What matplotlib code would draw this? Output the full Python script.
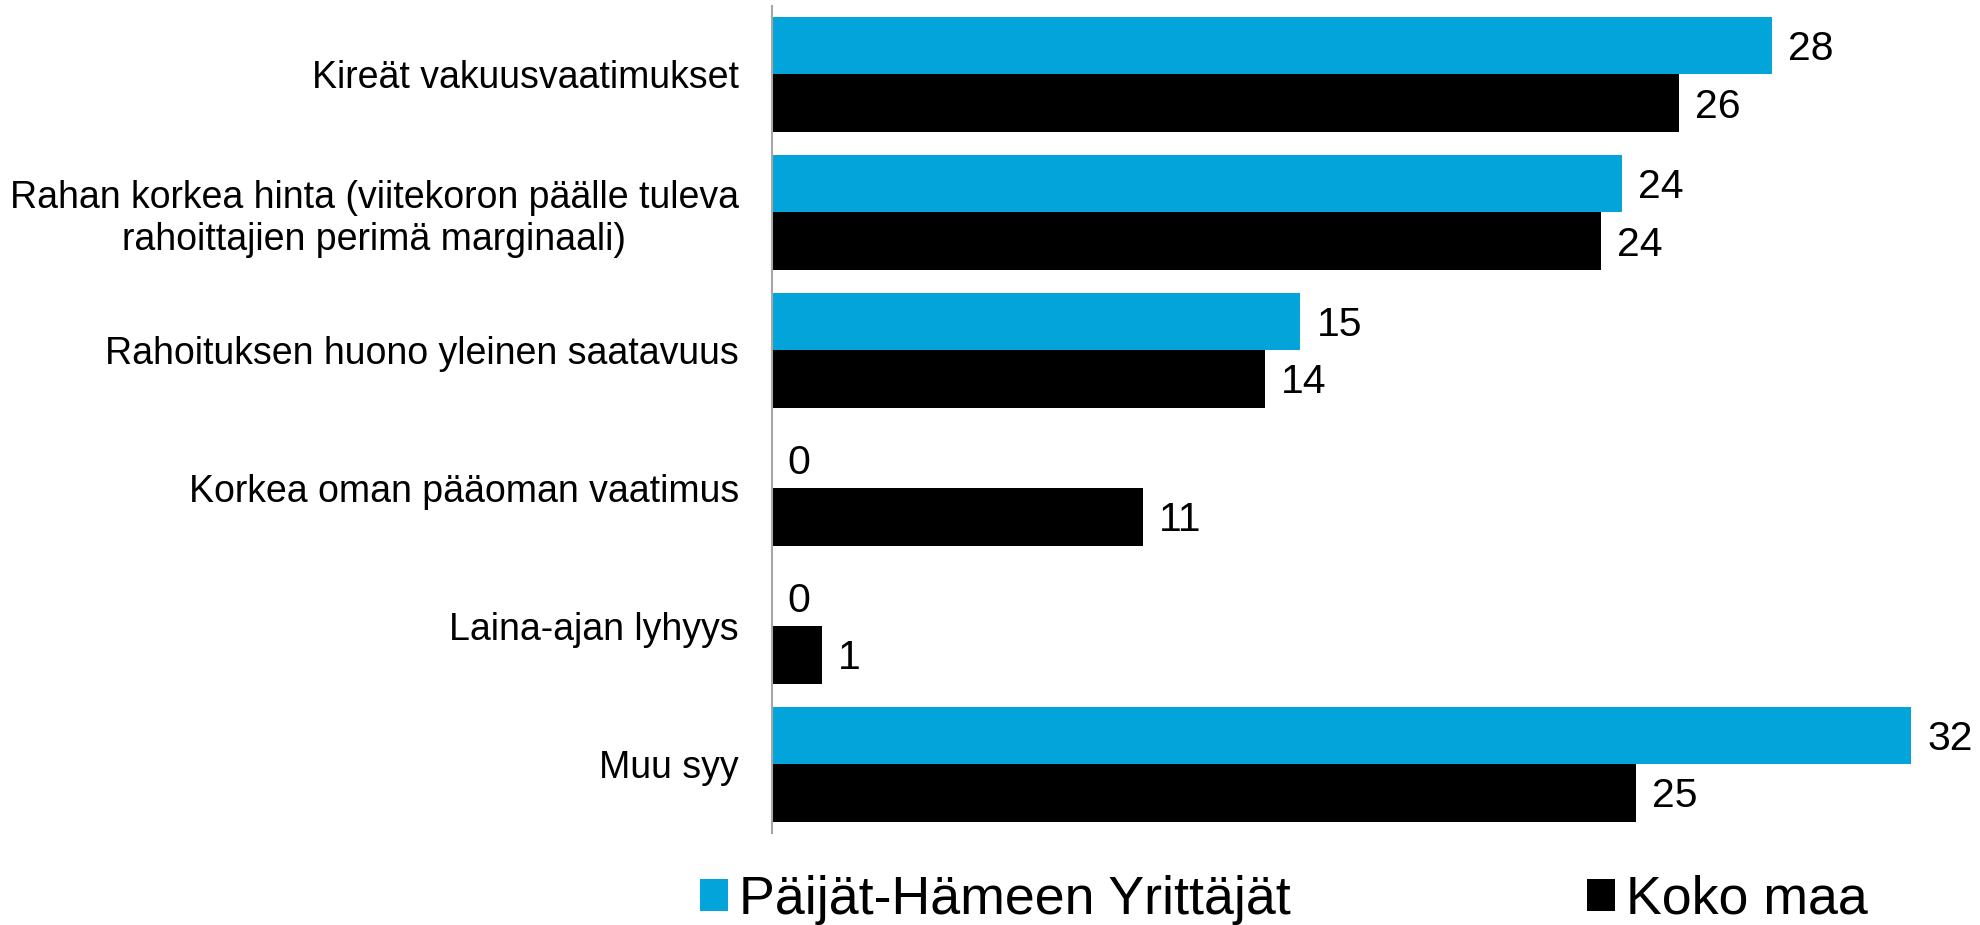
import matplotlib
matplotlib.use("Agg")
import matplotlib.pyplot as plt
from matplotlib.patches import Patch

categories = [
    "Kireät vakuusvaatimukset",
    "Rahan korkea hinta (viitekoron päälle tuleva\nrahoittajien perimä marginaali)",
    "Rahoituksen huono yleinen saatavuus",
    "Korkea oman pääoman vaatimus",
    "Laina-ajan lyhyys",
    "Muu syy",
]
series_names = ["Päijät-Hämeen Yrittäjät", "Koko maa"]
paijat_values = [28.0, 23.8, 14.8, 0.0, 0.0, 31.9]
koko_values = [25.4, 23.2, 13.8, 10.4, 1.4, 24.2]
paijat_labels = ["28", "24", "15", "0", "0", "32"]
koko_labels = ["26", "24", "14", "11", "1", "25"]

BLUE = "#02A4D9"
BLACK = "#000000"
plt.rcParams["font.family"] = ["Liberation Sans", "DejaVu Sans"]

W, H = 1980, 925
fig = plt.figure(figsize=(W / 100, H / 100), dpi=100)
left_px, top_px, bot_px = 771.6, 5.5, 833.0
xmax = 32.0
unit_px = 35.73
ax = fig.add_axes([left_px / W, 1 - bot_px / H, xmax * unit_px / W, (bot_px - top_px) / H])

n = len(categories)
ypos = list(range(n))
bh = 57.5 / 138.0
ax.barh([y - bh / 2 for y in ypos], paijat_values, height=bh, color=BLUE, label=series_names[0])
ax.barh([y + bh / 2 for y in ypos], koko_values, height=bh, color=BLACK, label=series_names[1])

vfs = 29.5
for y, v, lab in zip(ypos, paijat_values, paijat_labels):
    ax.annotate(lab, (v, y - bh / 2), xytext=(11.5, -2.5), textcoords="offset points",
                ha="left", va="center", fontsize=vfs, color="black", annotation_clip=False)
for y, v, lab in zip(ypos, koko_values, koko_labels):
    ax.annotate(lab, (v, y + bh / 2), xytext=(11.5, -2.5), textcoords="offset points",
                ha="left", va="center", fontsize=vfs, color="black", annotation_clip=False)

ax.set_xlim(0, xmax)
ax.set_ylim(n - 0.5, -0.5)
ax.set_yticks(ypos)
ax.set_yticklabels(categories, fontsize=27, ha="right", multialignment="center")
ax.tick_params(axis="y", length=0, pad=23.5)
ax.set_xticks([])
for s in ["top", "right", "bottom"]:
    ax.spines[s].set_visible(False)
ax.spines["left"].set_color("#A6A6A6")
ax.spines["left"].set_linewidth(1.5)

handles = [Patch(facecolor=BLUE, edgecolor="none"), Patch(facecolor=BLACK, edgecolor="none")]
fig.legend(handles, series_names, loc="center", bbox_to_anchor=(1283.7 / W, 1 - 900 / H),
           ncol=2, frameon=False, fontsize=38.7, handlelength=0.53, handleheight=0.53,
           handletextpad=0.2, columnspacing=5.5, borderpad=0)

fig.savefig("out.png", dpi=100)
